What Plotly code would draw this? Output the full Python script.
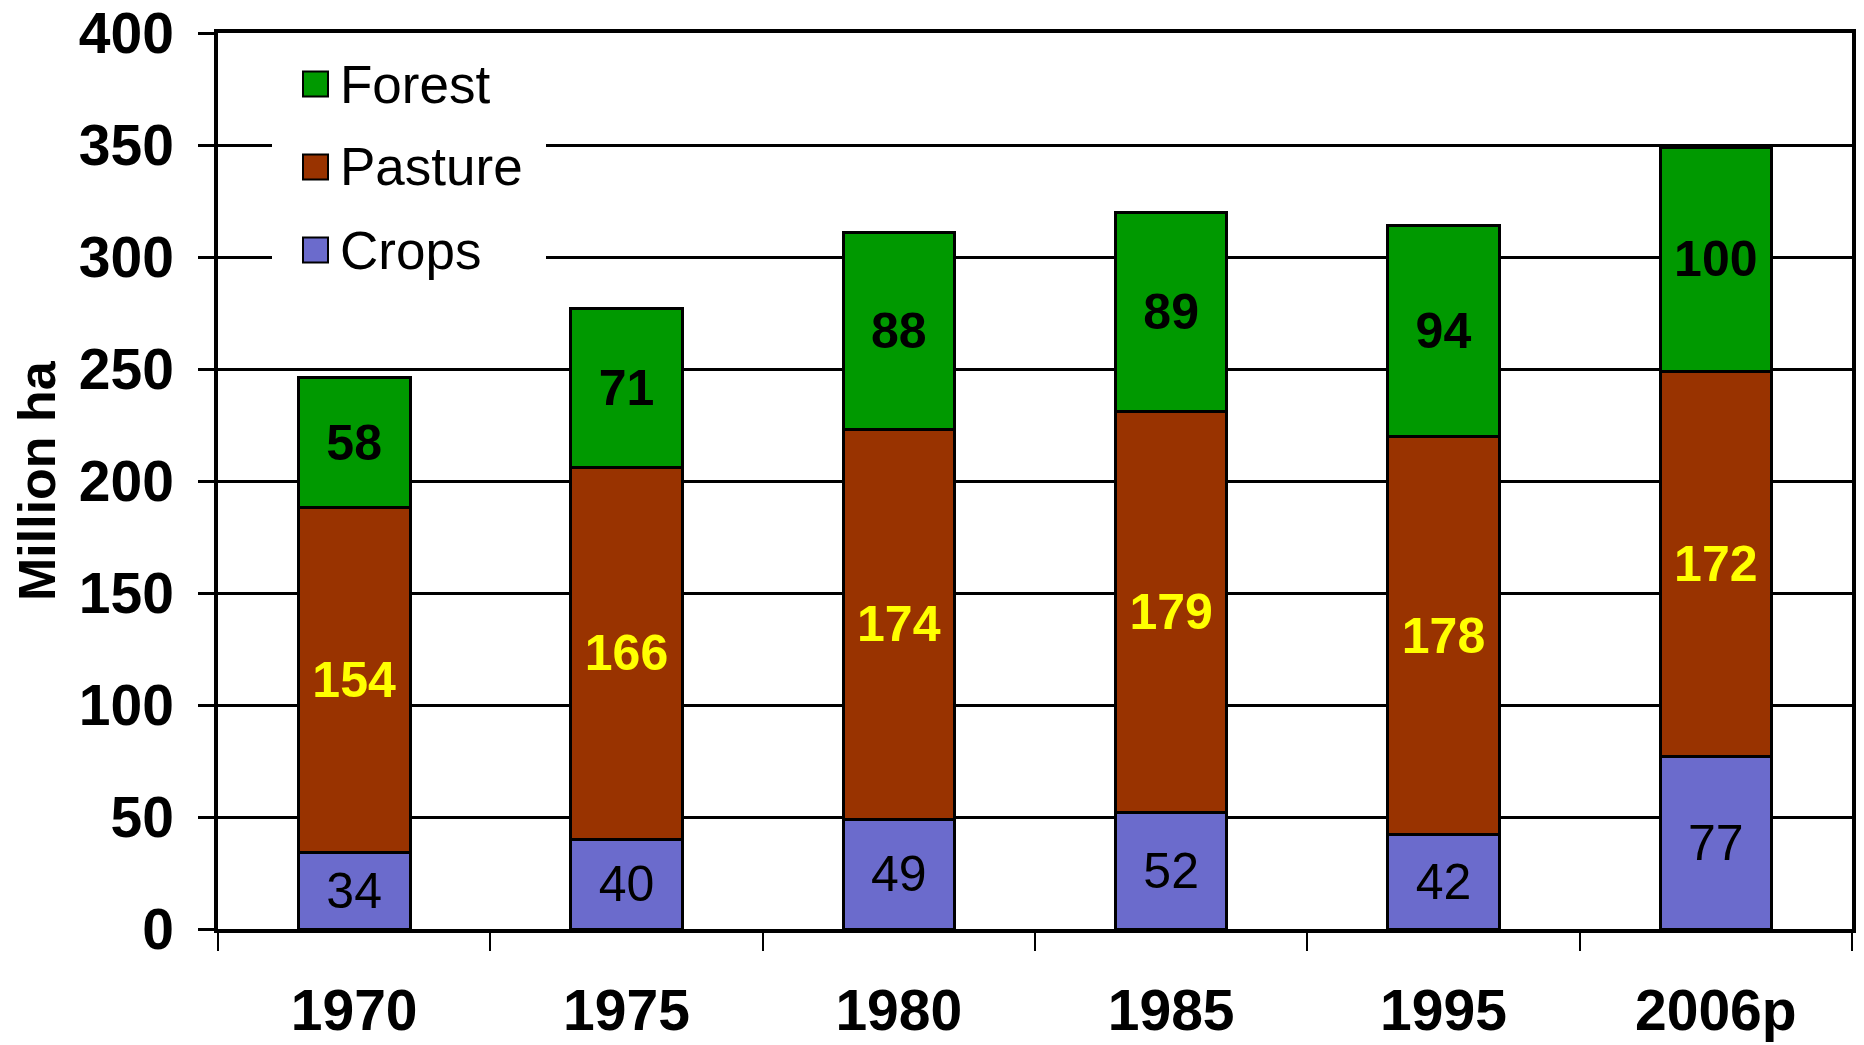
import plotly.graph_objects as go

years = ["1970", "1975", "1980", "1985", "1995", "2006p"]
crops = [34, 40, 49, 52, 42, 77]
pasture = [154, 166, 174, 179, 178, 172]
forest = [58, 71, 88, 89, 94, 100]
series_names = ["Crops", "Pasture", "Forest"]
colors = {"Crops": "#6B6BCC", "Pasture": "#993300", "Forest": "#009900"}
label_colors = {"Crops": "black", "Pasture": "#FFFF00", "Forest": "black"}
label_weights = {"Crops": "normal", "Pasture": "bold", "Forest": "bold"}
y_ticks = [0, 50, 100, 150, 200, 250, 300, 350, 400]

FONT = "Arial, Liberation Sans, sans-serif"
values = {"Crops": crops, "Pasture": pasture, "Forest": forest}

# plot area in page pixels: x 218..1852, y 33..929 (page body has an 8px margin)
PW, PH = 1634, 896

fig = go.Figure()
for name in series_names:
    fig.add_trace(go.Bar(
        x=years, y=values[name], name=name,
        marker=dict(color=colors[name], line=dict(color="black", width=3)),
        text=[str(v) for v in values[name]],
        textposition="inside", insidetextanchor="middle", textangle=0,
        textfont=dict(family=FONT, size=50, color=label_colors[name], weight=label_weights[name]),
        showlegend=False, hoverinfo="skip",
    ))

# legend drawn manually (white box, large squares)
fig.add_shape(type="rect", xref="paper", yref="paper",
              x0=(272 - 218) / PW, x1=(546 - 218) / PW,
              y0=(929 - 292) / PH, y1=(929 - 45) / PH,
              fillcolor="white", line=dict(width=0), layer="above")
legend_order = ["Forest", "Pasture", "Crops"]
legend_y = [84, 167, 250]
for name, yc in zip(legend_order, legend_y):
    yp = (929 - yc) / PH
    fig.add_shape(type="rect", xref="paper", yref="paper",
                  x0=(303 - 218) / PW, x1=(328 - 218) / PW,
                  y0=yp - 12.5 / PH, y1=yp + 12.5 / PH,
                  fillcolor=colors[name], line=dict(color="black", width=2), layer="above")
    fig.add_annotation(xref="paper", yref="paper", x=(338 - 218) / PW, y=yp,
                       text=name, showarrow=False, xanchor="left", yanchor="middle",
                       font=dict(family=FONT, size=53, color="black"))

fig.add_annotation(xref="paper", yref="paper", x=(37 - 218) / PW, y=0.5,
                   text="<b>Million ha</b>", showarrow=False, textangle=-90,
                   xanchor="center", yanchor="middle",
                   font=dict(family=FONT, size=52, color="black"))

fig.update_layout(
    width=1856, height=1037,
    margin=dict(l=210, r=12, t=25, b=116, autoexpand=False),
    barmode="stack", bargap=0.59,
    paper_bgcolor="white", plot_bgcolor="white",
    font=dict(family=FONT, color="black"),
    showlegend=False,
)
fig.update_xaxes(
    type="category", showline=True, linecolor="black", linewidth=3.5, mirror=True,
    ticks="outside", tickson="boundaries", ticklen=18, tickwidth=2, tickcolor="black",
    showgrid=False, ticklabelstandoff=29, automargin=False,
    tickfont=dict(family=FONT, size=57, color="black", weight="bold"),
)
fig.update_yaxes(
    range=[0, 400], tickvals=y_ticks, showline=True, linecolor="black", linewidth=3.5, mirror=True,
    ticks="outside", ticklen=16, tickwidth=2.5, tickcolor="black",
    showgrid=True, gridcolor="black", gridwidth=2.5, zeroline=False,
    ticklabelstandoff=13, automargin=False, ticklabeloverflow="allow",
    tickfont=dict(family=FONT, size=57, color="black", weight="bold"),
)

fig.write_html("out.html")
